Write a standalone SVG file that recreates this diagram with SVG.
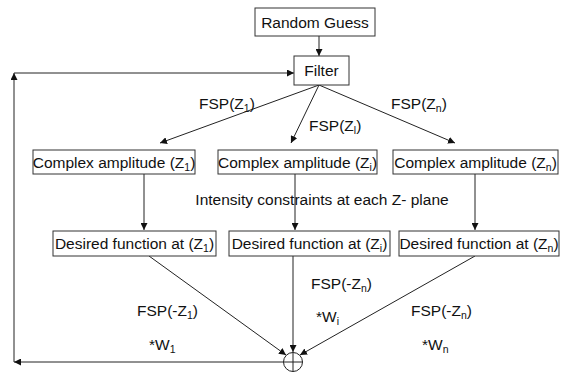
<svg xmlns="http://www.w3.org/2000/svg" width="561" height="372" viewBox="0 0 561 372">
<style>
text{font-family:"Liberation Sans",Arial,sans-serif;font-size:15.5px;fill:#111}
.box{fill:#fff;stroke:#333;stroke-width:1}
.ln{stroke:#222;stroke-width:1;fill:none}
.sub{font-size:10.5px}
</style>
<defs>
<marker id="ah" viewBox="0 0 10 10" refX="10" refY="5" markerWidth="7" markerHeight="7" markerUnits="userSpaceOnUse" orient="auto">
<path d="M0,0 L10,5 L0,10 z" fill="#111"/>
</marker>
</defs>
<rect width="561" height="372" fill="#fff"/>
<g id="connectors">
<line class="ln" x1="319" y1="36" x2="319" y2="56" marker-end="url(#ah)"/>
<line class="ln" x1="14" y1="362" x2="14" y2="73" marker-end="url(#ah)"/>
<line class="ln" x1="14" y1="73" x2="294" y2="73" marker-end="url(#ah)"/>
<line class="ln" x1="283" y1="362" x2="14" y2="362" marker-end="url(#ah)"/>
<line class="ln" x1="319" y1="85" x2="160" y2="143" marker-end="url(#ah)"/>
<line class="ln" x1="319" y1="85" x2="291" y2="143" marker-end="url(#ah)"/>
<line class="ln" x1="319" y1="85" x2="455" y2="143" marker-end="url(#ah)"/>
<line class="ln" x1="144" y1="174" x2="144" y2="230" marker-end="url(#ah)"/>
<line class="ln" x1="295" y1="174" x2="295" y2="230" marker-end="url(#ah)"/>
<line class="ln" x1="475" y1="174" x2="475" y2="230" marker-end="url(#ah)"/>
<line class="ln" x1="149" y1="256" x2="286" y2="355" marker-end="url(#ah)"/>
<line class="ln" x1="293" y1="256" x2="293" y2="352" marker-end="url(#ah)"/>
<line class="ln" x1="475" y1="256" x2="300" y2="355" marker-end="url(#ah)"/>
</g>
<g id="random-guess"><rect class="box" x="255" y="8" width="120" height="28"/><text x="315" y="27.5" text-anchor="middle">Random Guess</text></g>
<g id="filter"><rect class="box" x="294" y="56" width="55" height="29"/><text x="321.5" y="76" text-anchor="middle">Filter</text></g>
<g id="complex-1"><rect class="box" x="33" y="150" width="162" height="24"/><text x="114" y="167.5" text-anchor="middle">Complex amplitude (Z<tspan class="sub" dy="3">1</tspan><tspan dy="-3">)</tspan></text></g>
<g id="complex-i"><rect class="box" x="218" y="150" width="159" height="24"/><text x="297.5" y="167.5" text-anchor="middle">Complex amplitude (Z<tspan class="sub" dy="3">i</tspan><tspan dy="-3">)</tspan></text></g>
<g id="complex-n"><rect class="box" x="393" y="150" width="165" height="24"/><text x="475.5" y="167.5" text-anchor="middle">Complex amplitude (Z<tspan class="sub" dy="3">n</tspan><tspan dy="-3">)</tspan></text></g>
<g id="desired-1"><rect class="box" x="53" y="231" width="163" height="25"/><text x="134.5" y="249" text-anchor="middle">Desired function at (Z<tspan class="sub" dy="3">1</tspan><tspan dy="-3">)</tspan></text></g>
<g id="desired-i"><rect class="box" x="229" y="231" width="161" height="25"/><text x="309.5" y="249" text-anchor="middle">Desired function at (Z<tspan class="sub" dy="3">i</tspan><tspan dy="-3">)</tspan></text></g>
<g id="desired-n"><rect class="box" x="399" y="231" width="160" height="25"/><text x="479" y="249" text-anchor="middle">Desired function at (Z<tspan class="sub" dy="3">n</tspan><tspan dy="-3">)</tspan></text></g>
<g id="sum"><circle class="ln" cx="293" cy="362" r="9.5"/><line class="ln" x1="283.5" y1="362" x2="302.5" y2="362"/><line class="ln" x1="293" y1="352.5" x2="293" y2="371.5"/></g>
<g id="labels">
<text x="199" y="109">FSP(Z<tspan class="sub" dy="3">1</tspan><tspan dy="-3">)</tspan></text>
<text x="309" y="131">FSP(Z<tspan class="sub" dy="3">l</tspan><tspan dy="-3">)</tspan></text>
<text x="391" y="109">FSP(Z<tspan class="sub" dy="3">n</tspan><tspan dy="-3">)</tspan></text>
<text x="322" y="205" text-anchor="middle">Intensity constraints at each Z- plane</text>
<text x="137" y="316">FSP(-Z<tspan class="sub" dy="3">1</tspan><tspan dy="-3">)</tspan></text>
<text x="149" y="350">*W<tspan class="sub" dy="3">1</tspan></text>
<text x="311" y="289">FSP(-Z<tspan class="sub" dy="3">n</tspan><tspan dy="-3">)</tspan></text>
<text x="316" y="322">*W<tspan class="sub" dy="3">i</tspan></text>
<text x="411" y="316">FSP(-Z<tspan class="sub" dy="3">n</tspan><tspan dy="-3">)</tspan></text>
<text x="422" y="350">*W<tspan class="sub" dy="3">n</tspan></text>
</g>
</svg>
